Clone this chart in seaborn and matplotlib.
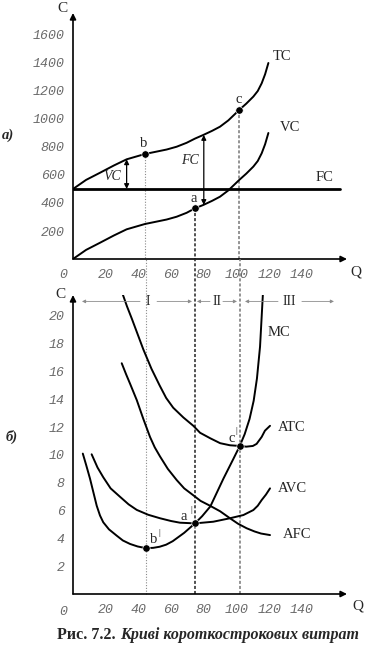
import matplotlib
matplotlib.use("Agg")
import matplotlib.pyplot as plt
import seaborn as sns
import pandas as pd

sns.set_style("white")
plt.rcParams["font.family"] = ["Liberation Serif", "DejaVu Serif"]

# ---------------- data: panel a) ----------------
q_tc = [0, 8, 16.5, 25, 32.8, 44, 49, 57.3, 63.4, 69.5, 74.6, 79.7, 85, 89.9, 95, 101.7, 106, 110.3, 113, 115.4, 117.5, 119.5]
tc = [500, 565, 616, 668, 712, 750, 762, 782, 802, 830, 860, 886, 915, 945, 990, 1065, 1110, 1160, 1200, 1255, 1320, 1400]
q_vc = [0, 8, 16.5, 25, 32.8, 44, 49, 57.3, 63.4, 69.5, 74.6, 79.7, 85, 89.9, 95, 101.7, 106, 110.3, 113, 115.4, 117.5, 119.5]
vc = [0, 65, 116, 168, 212, 250, 262, 282, 302, 330, 362, 386, 415, 445, 490, 565, 610, 660, 700, 755, 820, 900]
q_fc = [0, 163]
fc = [500, 500]
pts_a_q = [44, 74.6, 101.7]
pts_a_c = [750, 362, 1065]
pts_a_lbl = ["b", "a", "c"]
top_yticks = [200, 400, 600, 800, 1000, 1200, 1400, 1600]
xticks = [20, 40, 60, 80, 100, 120, 140]

# ---------------- data: panel б) ----------------
q_mc = [6, 8, 10.4, 12.5, 14.5, 16.5, 18.5, 22, 26.7, 30.5, 34.9, 39.5, 44.5, 49, 53, 57, 61, 68, 74.6, 79, 84, 88, 92, 98, 102, 105, 108, 110.5, 112.5, 114.4, 116.2]
mc = [10.1, 9.3, 8.3, 7.3, 6.35, 5.65, 5.16, 4.65, 4.2, 3.85, 3.6, 3.42, 3.3, 3.32, 3.4, 3.55, 3.8, 4.4, 5.08, 5.6, 6.3, 7.3, 8.3, 9.7, 10.65, 11.5, 12.6, 13.9, 15.5, 17.8, 21.7]
q_atc = [30, 33, 36, 39.5, 43, 48, 53, 57, 61.3, 67.5, 73.6, 77.7, 84, 90, 96, 102, 106, 110, 112.3, 115.4, 117.4, 120.5]
atc = [21.7, 20.7, 19.8, 18.7, 17.6, 16.2, 15.0, 14.1, 13.4, 12.7, 12.1, 11.6, 11.2, 10.85, 10.7, 10.65, 10.6, 10.65, 10.8, 11.3, 11.75, 12.1]
q_avc = [11.4, 15, 18.5, 23, 28.7, 34, 39, 46, 53.2, 60, 65.4, 74.6, 85.8, 96, 104.2, 110.3, 113, 115.4, 118, 120.5]
avc = [10.05, 9.1, 8.4, 7.6, 7.0, 6.45, 6.05, 5.7, 5.45, 5.25, 5.13, 5.08, 5.2, 5.45, 5.68, 6.04, 6.35, 6.76, 7.15, 7.6]
q_afc = [29.8, 32.5, 35, 39, 43, 47.1, 50, 53.2, 58, 63.4, 68, 73.6, 78, 83.8, 90, 96, 101, 106.2, 111, 115, 120.5]
afc = [16.6, 15.8, 15.1, 13.95, 12.6, 11.3, 10.55, 9.9, 9.0, 8.2, 7.6, 7.1, 6.7, 6.35, 5.95, 5.45, 5.05, 4.73, 4.5, 4.35, 4.24]
pts_b_q = [44.5, 74.6, 102]
pts_b_c = [3.3, 5.08, 10.65]
bot_yticks = [2, 4, 6, 8, 10, 12, 14, 16, 18, 20]
regions = ["I", "II", "III"]
region_mid = [46, 88, 132.5]

W, H = 384, 658
fig = plt.figure(figsize=(W / 100, H / 100), dpi=100)

X0, XT = 73, 347           # y-axis pixel x, arrow tip x
PXQ = 1.635                 # px per Q unit
xmax = (XT - X0) / PXQ

# top axes
t_bot, t_top = 259, 13
ax1 = fig.add_axes([X0 / W, 1 - t_bot / H, (XT - X0) / W, (t_bot - t_top) / H])
ax1.set_xlim(0, xmax)
ax1.set_ylim(0, (t_bot - t_top) / 0.14)
# bottom axes
b_bot, b_top = 594, 295
ax2 = fig.add_axes([X0 / W, 1 - b_bot / H, (XT - X0) / W, (b_bot - b_top) / H])
ax2.set_xlim(0, xmax)
ax2.set_ylim(0, (b_bot - b_top) / 13.9)

tickfont = dict(family="Liberation Mono", style="italic", color="#6a6a6a", size=9.5)

for ax, yt in ((ax1, top_yticks), (ax2, bot_yticks)):
    for s in ax.spines.values():
        s.set_visible(False)
    ax.set_facecolor("none")
    ax.annotate("", xy=(0, 1), xytext=(0, 0), xycoords="axes fraction",
                arrowprops=dict(arrowstyle="-|>", color="black", lw=1.2,
                                mutation_scale=9, shrinkA=0, shrinkB=0))
    ax.annotate("", xy=(1, 0), xytext=(0, 0), xycoords="axes fraction",
                arrowprops=dict(arrowstyle="-|>", color="black", lw=1.2,
                                mutation_scale=9, shrinkA=0, shrinkB=0))
    ax.set_xticks(xticks)
    ax.set_xticklabels([str(v) for v in xticks], fontdict=tickfont)
    ax.set_yticks(yt)
    ax.set_yticklabels([str(v) for v in yt], fontdict=tickfont)
    ax.tick_params(axis="x", direction="in", length=4, width=0.8, pad=7, color="black")
    ax.tick_params(axis="y", direction="out", length=4, width=0.8, pad=2, color="black")
    ax.set_xlabel("")
    ax.set_ylabel("")
    ax.text(-0.035, -0.04, "0", transform=ax.transAxes, ha="center", va="top", **tickfont)

line_kw = dict(color="black", linewidth=1.4, sort=False, estimator=None, legend=False)

# ---- panel a curves ----
sns.lineplot(x=q_fc, y=fc, ax=ax1, color="black", linewidth=2.0, sort=False, estimator=None, legend=False)
sns.lineplot(x=q_tc, y=tc, ax=ax1, **line_kw)
sns.lineplot(x=q_vc, y=vc, ax=ax1, **line_kw)
sns.scatterplot(x=pts_a_q, y=pts_a_c, ax=ax1, color="black", s=28, zorder=5, legend=False)

vstyles = [dict(color="#8a8a8a", linestyle=(0, (1, 1.5)), lw=0.8),
           dict(color="#222222", linestyle=(0, (2, 1.3)), lw=1.1),
           dict(color="#777777", linestyle=(0, (2, 1.3)), lw=1.1)]
for q, c, st in zip(pts_a_q, pts_a_c, vstyles):
    ax1.plot([q, q], [c, 0], clip_on=False, zorder=1, **st)
for q, st in zip(pts_b_q, vstyles):
    ax2.plot([q, q], [0, (b_bot - t_bot) / 13.9], clip_on=False, zorder=1, **st)

lab = dict(size=10.5, ha="center", va="center")
ax1.text(127.8, 1443, "TC", **lab)
ax1.text(132.7, 936, "VC", **lab)
ax1.text(154, 579, "FC", **lab)
for q, c, t in zip(pts_a_q, pts_a_c, pts_a_lbl):
    ax1.text(q - 0.5, c + 72, t, **lab)

darr = dict(arrowstyle="<|-|>", color="black", lw=0.9, mutation_scale=7, shrinkA=0, shrinkB=0)
ax1.annotate("", xy=(32.8, 712), xytext=(32.8, 500), arrowprops=darr)
ax1.annotate("", xy=(80, 886), xytext=(80, 386), arrowprops=darr)
ax1.text(23.9, 586, "VC", style="italic", size=10, ha="center", va="center")
ax1.text(71.5, 700, "FC", style="italic", size=10, ha="center", va="center")

# ---- panel б curves ----
for qq, cc in ((q_mc, mc), (q_atc, atc), (q_avc, avc), (q_afc, afc)):
    sns.lineplot(x=qq, y=cc, ax=ax2, **line_kw)
sns.scatterplot(x=pts_b_q, y=pts_b_c, ax=ax2, color="black", s=28, zorder=5, legend=False)

ax2.text(125.7, 18.8, "MC", **lab)
ax2.text(134, 12.0, "ATC", **lab)
ax2.text(134, 7.6, "AVC", **lab)
ax2.text(137, 4.25, "AFC", **lab)
ax2.text(97, 11.2, "c", **lab)
ax2.text(99.8, 11.7, "|", size=6.5, ha="center", va="center")
ax2.text(67.5, 5.56, "a", **lab)
ax2.text(72.1, 6.05, "|", size=6.5, ha="center", va="center")
ax2.text(49.5, 3.9, "b", **lab)
ax2.text(52.5, 4.4, "|", size=6.5, ha="center", va="center")

# region markers
ry = 21.05
segs = [((41, 5.5), (51.4, 72.8)), ((83.8, 75.8), (91.7, 100.3)), ((125.4, 105.2), (140, 159.6))]
rarr = dict(arrowstyle="-|>", color="#8c8c8c", lw=0.6, mutation_scale=5, shrinkA=0, shrinkB=0)
for name, mid, (l, r) in zip(regions, region_mid, segs):
    ax2.annotate("", xy=(l[1], ry), xytext=(l[0], ry), arrowprops=rarr, annotation_clip=False)
    ax2.annotate("", xy=(r[1], ry), xytext=(r[0], ry), arrowprops=rarr, annotation_clip=False)
    ax2.text(mid, ry, name, size=10, ha="center", va="center")

# axis letters
fig.text(62 / W, 1 - 8 / H, "C", size=11, ha="center", va="center")
fig.text(356 / W, 1 - 272 / H, "Q", size=11, ha="center", va="center")
fig.text(60 / W, 1 - 295 / H, "C", size=11, ha="center", va="center")
fig.text(358 / W, 1 - 606 / H, "Q", size=11, ha="center", va="center")
fig.text(8 / W, 1 - 135 / H, "а)", size=10.5, weight="bold", style="italic", ha="center", va="center")
fig.text(12 / W, 1 - 437 / H, "б)", size=10.5, weight="bold", style="italic", ha="center", va="center")

# caption
fig.canvas.draw()
r = fig.canvas.get_renderer()
t1 = fig.text(0, 1 - 635 / H, "Рис. 7.2. ", size=11.5, weight="bold", ha="left", va="center")
t2 = fig.text(0, 1 - 635 / H, "Криві короткострокових витрат", size=11.5, weight="bold",
              style="italic", ha="left", va="center")
w1 = t1.get_window_extent(r).width
w2 = t2.get_window_extent(r).width
start = 208 - (w1 + w2) / 2
t1.set_x(start / W)
t2.set_x((start + w1) / W)

fig.savefig("out.png", dpi=100)
